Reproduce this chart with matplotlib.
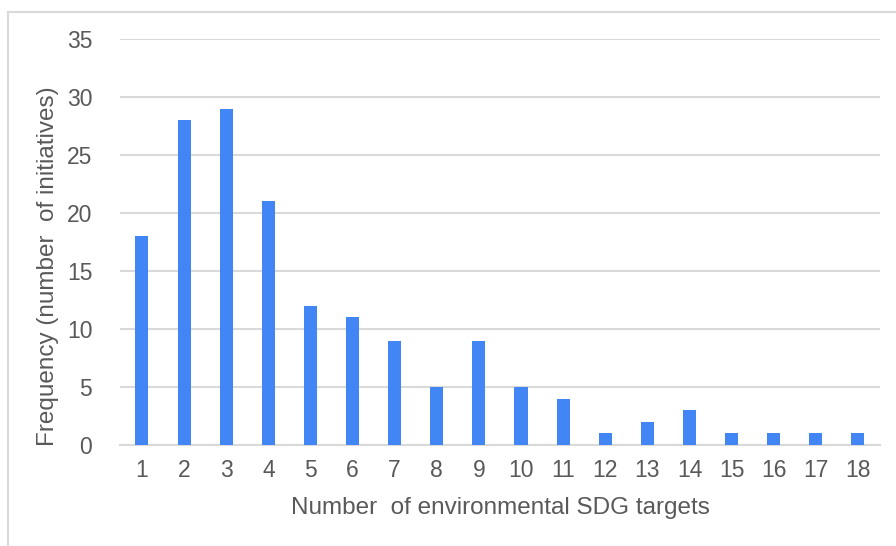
import numpy as np
import matplotlib.pyplot as plt
from matplotlib.patches import Rectangle

# Number of environmental SDG targets vs. number of initiatives
targets = list(range(1, 19))
frequency = [18, 28, 29, 21, 12, 11, 9, 5, 9, 5, 4, 1, 2, 3, 1, 1, 1, 1]
yticks = [0, 5, 10, 15, 20, 25, 30, 35]

plt.rcParams['font.family'] = ['Liberation Sans', 'DejaVu Sans']
txt = '#595959'

fig = plt.figure(figsize=(8.96, 5.46), dpi=100)
ax = fig.add_axes([0.134, 0.185, 0.848, 0.7436])

# light frame around the chart area (cut off at right/bottom as in the original)
fig.patches.append(Rectangle((8/896, -0.05), 1.0, 1 - 12/546 + 0.05,
                             transform=fig.transFigure, fill=False,
                             edgecolor='#d9d9d9', linewidth=1.5))

ax.bar(targets, frequency, width=0.31, color='#4285F4', zorder=3)

ax.set_xlim(0.48, 18.52)
ax.set_ylim(0, 35)
ax.set_yticks(yticks)
ax.set_xticks(targets)
ax.yaxis.grid(True, color='#d9d9d9', linewidth=1.5, zorder=0)
ax.tick_params(length=0, labelsize=16.5, colors=txt)
ax.tick_params(axis='y', pad=20)
ax.tick_params(axis='x', pad=10)
for s in ['top', 'right', 'left']:
    ax.spines[s].set_visible(False)
ax.spines['bottom'].set_color('#d9d9d9')
ax.spines['bottom'].set_linewidth(1.5)

ax.set_xlabel('Number  of environmental SDG targets', fontsize=17.5, color=txt, labelpad=11)
ax.set_ylabel('Frequency (number  of initiatives)', fontsize=17.5, color=txt)
ax.yaxis.set_label_coords(-0.080, 0.44)

fig.savefig('out.png', dpi=100)
